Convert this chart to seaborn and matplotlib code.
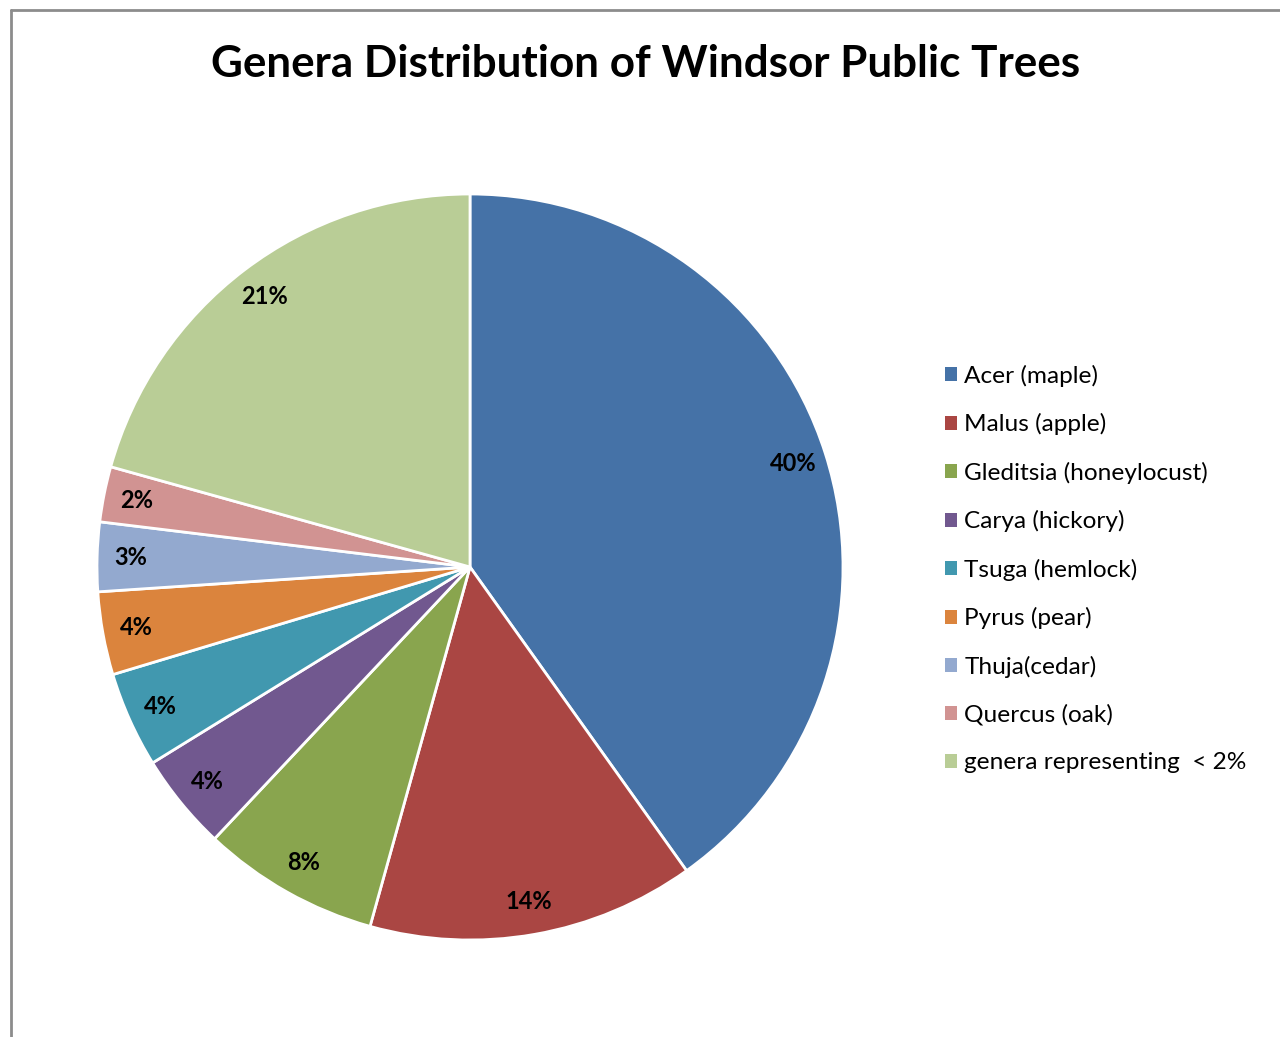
import matplotlib
matplotlib.use("Agg")
import matplotlib.pyplot as plt
from matplotlib.patches import Patch
from matplotlib.lines import Line2D
import seaborn as sns

genera = [
    "Acer (maple)",
    "Malus (apple)",
    "Gleditsia (honeylocust)",
    "Carya (hickory)",
    "Tsuga (hemlock)",
    "Pyrus (pear)",
    "Thuja(cedar)",
    "Quercus (oak)",
    "genera representing  < 2%",
]
share_pct = [40.2, 14.2, 7.7, 4.2, 4.15, 3.6, 3.0, 2.4, 20.7]
colors = ["#4572A7", "#AA4643", "#89A54E", "#71588F", "#4198AF",
          "#DB843D", "#93A9CF", "#D19392", "#B9CD96"]

sns.set_theme(style="white")
plt.rcParams["font.family"] = ["Lato", "DejaVu Sans"]
plt.rcParams["text.color"] = "black"
palette = sns.color_palette(colors)

fig = plt.figure(figsize=(12.8, 10.37), dpi=100)
fig.patch.set_facecolor("white")

ax = fig.add_axes([97 / 1280, 97 / 1037, 746 / 1280, 746 / 1037])
wedges, texts, autotexts = ax.pie(
    share_pct,
    colors=palette,
    startangle=90,
    counterclock=False,
    autopct="%.0f%%",
    pctdistance=0.91,
    wedgeprops=dict(edgecolor="white", linewidth=2),
    textprops=dict(fontsize=17, fontweight="bold", color="black"),
)
ax.set_xlim(-1, 1)
ax.set_ylim(-1, 1)
ax.set_aspect("equal")
ax.axis("off")

fig.text(0.504, 1 - 64 / 1037, "Genera Distribution of Windsor Public Trees",
         ha="center", va="center", fontsize=31.7, fontweight="bold",
         color="black")

handles = [Patch(facecolor=c, edgecolor="none") for c in palette]
leg = fig.legend(handles, genera, loc="upper left",
                 bbox_to_anchor=(935 / 1280, 1 - 355 / 1037),
                 frameon=False, fontsize=17.6, handlelength=0.5,
                 handleheight=0.5, handletextpad=0.3, labelspacing=1.08,
                 borderaxespad=0)
for t in leg.get_texts():
    t.set_color("black")

# chart-area frame on the left and top edges
fig.add_artist(Line2D([11 / 1280, 11 / 1280], [0, 1 - 10 / 1037],
                      transform=fig.transFigure, color="#8c8c8c", lw=2))
fig.add_artist(Line2D([11 / 1280, 1], [1 - 10 / 1037, 1 - 10 / 1037],
                      transform=fig.transFigure, color="#8c8c8c", lw=2))

fig.savefig("out.png", dpi=100, facecolor="white")
